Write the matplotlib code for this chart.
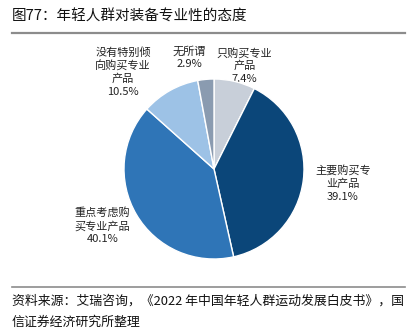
import matplotlib.pyplot as plt
from matplotlib.lines import Line2D

plt.rcParams['font.family'] = ['Noto Sans CJK SC', 'DejaVu Sans']

# attitude toward professional gear, share of respondents (%)
categories = ['只购买专业产品', '主要购买专业产品', '重点考虑购买专业产品',
              '没有特别倾向购买专业产品', '无所谓']
shares = [7.4, 39.1, 40.1, 10.5, 2.9]

colors = ['#c8cfd9', '#0b4679', '#2f75b7', '#9dc2e6', '#8a9bb0']
# label centres in pie units (radius = 1)
label_xy = [(0.34, 1.15), (1.43, -0.16), (-1.24, -0.63), (-1.01, 1.08), (-0.27, 1.24)]


def wrap(s, n=5):
    return '\n'.join(s[i:i + n] for i in range(0, len(s), n))


W, H = 418, 330
fig = plt.figure(figsize=(W / 100, H / 100), dpi=100)

# pie axes spans the figure; 90 px per unit, centre at (214, 169) px from top-left
ax = fig.add_axes([0, 0, 1, 1])
cx, cy, r = 214, 169, 90

ax.pie(shares, colors=colors, startangle=90, counterclock=False, radius=1,
       wedgeprops=dict(edgecolor='white', linewidth=1), frame=True)
ax.set_xlim(-cx / r, (W - cx) / r)
ax.set_ylim(-(H - cy) / r, cy / r)
ax.axis('off')

for name, v, (x, y) in zip(categories, shares, label_xy):
    ax.text(x, y, f'{wrap(name)}\n{v:.1f}%', ha='center', va='center',
            fontsize=8, color='#222222', linespacing=1.3, zorder=0)

# title and rules
fig.text(12 / W, 1 - 17 / H, '图77：年轻人群对装备专业性的态度', fontsize=10.5,
         color='#111111', va='center', ha='left')
fig.add_artist(Line2D([12 / W, 405 / W], [1 - 33 / H, 1 - 33 / H],
                      color='#8c8c8c', linewidth=1.6))
fig.add_artist(Line2D([12 / W, 405 / W], [1 - 287 / H, 1 - 287 / H],
                      color='#8c8c8c', linewidth=1.2))

fig.text(12 / W, 1 - 301 / H, '资料来源：艾瑞咨询，《2022 年中国年轻人群运动发展白皮书》，国',
         fontsize=9.3, color='#111111', va='center', ha='left')
fig.text(12 / W, 1 - 322 / H, '信证券经济研究所整理',
         fontsize=9.3, color='#111111', va='center', ha='left')

fig.savefig('out.png', dpi=100)
